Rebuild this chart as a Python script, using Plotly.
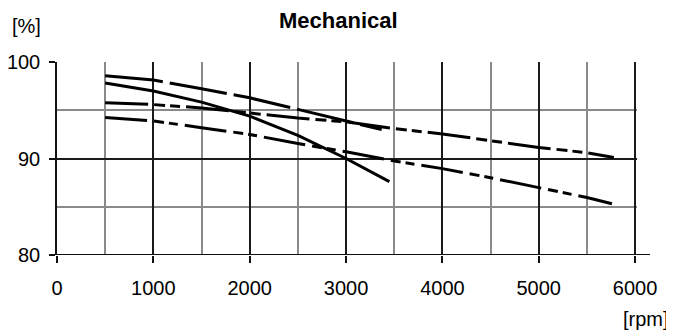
import plotly.graph_objects as go

# readings, rpm vs. efficiency [%]
rpm_a = [500, 1000, 1500, 2000, 2500, 3000, 3370]
eff_a = [98.6, 98.15, 97.25, 96.3, 95.1, 93.9, 93.0]

rpm_b = [500, 1000, 1500, 2000, 2500, 3000, 3450]
eff_b = [97.85, 97.0, 95.85, 94.4, 92.4, 90.0, 87.6]

rpm_c = [500, 1000, 1500, 2000, 2500, 3000, 3500, 4000, 4500, 5000, 5500, 5780]
eff_c = [95.8, 95.6, 95.25, 94.75, 94.2, 93.8, 93.1, 92.55, 91.85, 91.15, 90.6, 90.1]

rpm_d = [500, 1000, 1500, 2000, 2500, 3000, 3500, 4000, 4500, 5000, 5500, 5760]
eff_d = [94.25, 93.9, 93.2, 92.5, 91.55, 90.7, 89.75, 88.95, 88.0, 87.0, 85.95, 85.3]

x_ticks = [0, 1000, 2000, 3000, 4000, 5000, 6000]
y_ticks = [80, 90, 100]

FONT = "Liberation Sans, Arial, Helvetica, sans-serif"
OFF = 8  # the page body keeps an 8px margin, so work in figure px = window px - 8
W, H = 674 - OFF, 332 - OFF
L, T = 57 - OFF, 62 - OFF
R = W - (637 - OFF)
B = H - (255 - OFF)
plot_w = W - L - R
plot_h = H - T - B


def px_x(win_x):
    return (win_x - OFF - L) / plot_w


def px_y(win_y):
    return 1 - (win_y - OFF - T) / plot_h


series = [
    (rpm_a, eff_a, "58px,7px"),
    (rpm_b, eff_b, "solid"),
    (rpm_c, eff_c, "43px,6px,11px,5px,10px,6px"),
    (rpm_d, eff_d, "42px,7px,10px,5px,9px,7px"),
]

fig = go.Figure()
for xs, ys, dash in series:
    fig.add_trace(go.Scatter(x=xs, y=ys, mode="lines",
                             line=dict(color="black", width=3, dash=dash),
                             showlegend=False, hoverinfo="skip"))

fig.update_xaxes(range=[0, 6020], tickvals=x_ticks, ticks="outside", ticklen=7,
                 tickwidth=1.5, tickcolor="#111", showgrid=True, gridcolor="#1a1a1a",
                 gridwidth=1.5, minor=dict(dtick=500, showgrid=True, gridcolor="#8a8a8a",
                                           gridwidth=1.5, ticks=""),
                 zeroline=False, showline=False, ticklabelstandoff=8, automargin=False,
                 tickfont=dict(size=20, color="black", family=FONT))
fig.update_yaxes(range=[79.98, 100.02], tickvals=y_ticks, ticks="outside", ticklen=6,
                 tickwidth=1.5, tickcolor="#111", showgrid=True, gridcolor="#1a1a1a",
                 gridwidth=1.5, minor=dict(dtick=5, showgrid=True, gridcolor="#8a8a8a",
                                           gridwidth=1.5, ticks=""),
                 zeroline=False, showline=True, linecolor="#111", linewidth=1.5,
                 ticklabelstandoff=5, automargin=False,
                 tickfont=dict(size=20, color="black", family=FONT))

# bottom axis line runs a bit past the last tick
fig.add_shape(type="line", xref="paper", yref="y", x0=0, x1=px_x(650),
              y0=80, y1=80, line=dict(color="#111", width=1.5))

fig.add_annotation(text="<b>Mechanical</b>", xref="paper", yref="paper",
                   x=px_x(338), y=px_y(21), showarrow=False,
                   xanchor="center", yanchor="middle",
                   font=dict(size=22, color="black", family=FONT))
fig.add_annotation(text="[%]", xref="paper", yref="paper",
                   x=px_x(10), y=px_y(26), showarrow=False,
                   xanchor="left", yanchor="middle",
                   font=dict(size=20, color="black", family=FONT))
fig.add_annotation(text="[rpm]", xref="paper", yref="paper",
                   x=px_x(671), y=px_y(319), showarrow=False,
                   xanchor="right", yanchor="middle",
                   font=dict(size=20, color="black", family=FONT))
# edge of the neighbouring chart's label
fig.add_annotation(text="100", xref="paper", yref="y",
                   x=px_x(666), y=100, showarrow=False,
                   xanchor="left", yanchor="middle",
                   font=dict(size=20, color="black", family=FONT))

fig.update_layout(width=W, height=H, margin=dict(l=L, r=R, t=T, b=B, autoexpand=False),
                  plot_bgcolor="white", paper_bgcolor="white",
                  font=dict(family=FONT, color="black"))

fig.write_html("out.html")
